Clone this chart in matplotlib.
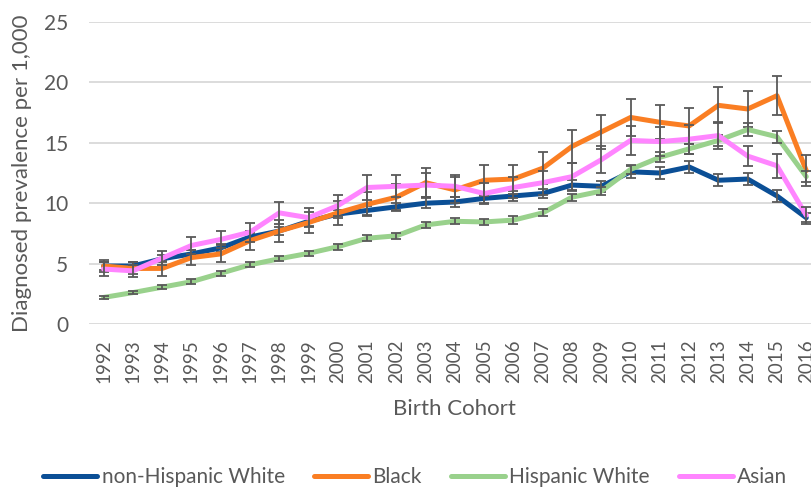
import matplotlib
matplotlib.use("Agg")
import matplotlib.pyplot as plt
import numpy as np

plt.rcParams['font.family'] = ['Lato', 'DejaVu Sans']

# Data
years = [str(y) for y in range(1992, 2017)]

nhw = [4.8, 4.8, 5.4, 5.8, 6.3, 7.2, 7.7, 8.5, 9.1, 9.4, 9.7, 10.0, 10.1, 10.4, 10.6, 10.8, 11.5, 11.4, 12.6, 12.5, 13.0, 11.9, 12.0, 10.6, 8.8]
black = [4.8, 4.6, 4.6, 5.5, 5.8, 6.9, 7.7, 8.4, 9.2, 9.9, 10.5, 11.7, 11.1, 11.9, 12.0, 12.9, 14.7, 15.9, 17.1, 16.7, 16.4, 18.1, 17.8, 18.9, 12.7]
hw = [2.2, 2.6, 3.05, 3.5, 4.2, 4.9, 5.4, 5.85, 6.4, 7.1, 7.3, 8.2, 8.5, 8.45, 8.6, 9.2, 10.5, 11.0, 12.8, 13.8, 14.5, 15.2, 16.1, 15.5, 12.2]
asian = [4.55, 4.4, 5.45, 6.5, 7.0, 7.6, 9.2, 8.8, 9.8, 11.3, 11.4, 11.5, 11.4, 10.8, 11.3, 11.7, 12.2, 13.6, 15.2, 15.1, 15.3, 15.6, 13.9, 13.1, 9.0]

nhw_err = [0.3, 0.3, 0.3, 0.3, 0.3, 0.3, 0.35, 0.35, 0.35, 0.35, 0.35, 0.4, 0.4, 0.4, 0.4, 0.4, 0.45, 0.45, 0.5, 0.5, 0.5, 0.5, 0.5, 0.5, 0.35]
black_err = [0.5, 0.5, 0.6, 0.6, 0.7, 0.8, 0.9, 0.9, 1.0, 1.0, 1.1, 1.2, 1.1, 1.3, 1.2, 1.3, 1.4, 1.4, 1.5, 1.4, 1.5, 1.5, 1.5, 1.6, 1.3]
hw_err = [0.15, 0.15, 0.15, 0.2, 0.2, 0.2, 0.2, 0.2, 0.25, 0.25, 0.25, 0.25, 0.25, 0.25, 0.3, 0.3, 0.3, 0.35, 0.4, 0.4, 0.4, 0.45, 0.5, 0.5, 0.45]
asian_err = [0.6, 0.5, 0.6, 0.7, 0.7, 0.8, 0.9, 0.8, 0.9, 1.0, 0.9, 1.0, 0.9, 0.9, 0.9, 1.0, 1.1, 1.1, 1.2, 1.2, 1.2, 1.1, 0.8, 1.0, 0.7]

labels = ['non-Hispanic White', 'Black', 'Hispanic White', 'Asian']
colors = ['#0B4F96', '#FA7E23', '#99D18C', '#FF85FF']

fig = plt.figure(figsize=(8.11, 4.87), dpi=100)
ax = fig.add_axes([0.1097, 0.3347, 0.9025, 0.6201])

x = np.arange(len(years))
series = [(nhw, nhw_err), (black, black_err), (hw, hw_err), (asian, asian_err)]
for i, ((vals, errs), lab, col) in enumerate(zip(series, labels, colors)):
    ax.plot(x, vals, color=col, lw=3.6, label=lab, zorder=3 + i, solid_capstyle='round')
    ax.errorbar(x, vals, yerr=errs, fmt='none', ecolor='#595959', elinewidth=1.3,
                capsize=3.5, capthick=1.3, zorder=3 + i + 0.5)

ax.set_xlim(-0.5, len(years) - 0.5)
ax.set_ylim(0, 25)
ax.set_yticks(range(0, 26, 5))
ax.set_xticks(x)
ax.set_xticklabels(years, rotation=90)
ax.grid(axis='y', color='#D9D9D9', lw=1.3)
ax.set_axisbelow(True)
for s in ax.spines.values():
    s.set_visible(False)
ax.tick_params(length=0, labelsize=15, colors='#595959')
ax.tick_params(axis='x', pad=11, labelsize=13.5)
ax.tick_params(axis='y', pad=15)
ax.set_ylabel('Diagnosed prevalence per 1,000', fontsize=16, color='#595959')
ax.set_xlabel('Birth Cohort', fontsize=16, color='#595959')
ax.yaxis.set_label_coords(-0.078, 0.5)
ax.xaxis.set_label_coords(0.5, -0.25)

fig.legend(loc='center', bbox_to_anchor=(0.512, 0.02), ncol=4, frameon=False,
           fontsize=15, handlelength=2.6, handletextpad=0.2, columnspacing=1.4,
           labelcolor='#595959')

plt.savefig('out.png', dpi=100)
